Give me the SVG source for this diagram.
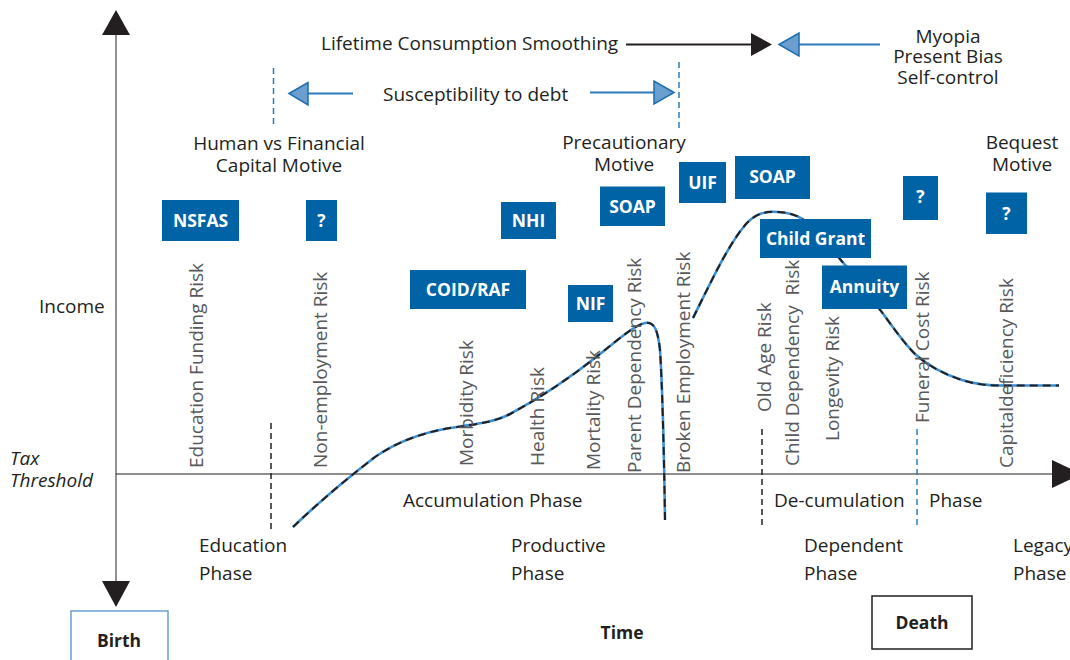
<svg xmlns="http://www.w3.org/2000/svg" width="1070" height="660" viewBox="0 0 1070 660">
<style>
.t{font-family:"Open Sans","Liberation Sans",sans-serif;font-size:19px;fill:#231f20}
.c{text-anchor:middle}
.r{font-family:"Open Sans","Liberation Sans",sans-serif;font-size:19px;fill:#58595b}
.bx{fill:#0063a6}
.bt{font-family:"Open Sans","Liberation Sans",sans-serif;font-size:17.5px;font-weight:bold;fill:#fff;text-anchor:middle}
.bk{font-family:"Open Sans","Liberation Sans",sans-serif;font-size:17.5px;font-weight:bold;fill:#231f20;text-anchor:middle}
.dk{stroke:#231f20;stroke-width:1.5;stroke-dasharray:6 4;fill:none}
.db{stroke:#2b7bba;stroke-width:1.5;stroke-dasharray:6 4;fill:none}
.bl{stroke:#2b7bba;stroke-width:2;fill:none}
.ah{fill:#6b9fd0;stroke:#1c6eae;stroke-width:1.5}
.cb{stroke:#3d8fd1;stroke-width:2.6;fill:none}
.cd{stroke:#231f20;stroke-width:2;stroke-dasharray:8 5;fill:none}
</style>
<rect width="1070" height="660" fill="#fff"/>
<g id="axes">
<line x1="116" y1="34" x2="116" y2="582" stroke="#6d6e71" stroke-width="1.5"/>
<polygon points="102,35 130,35 116,10" fill="#231f20"/>
<polygon points="102,581 130,581 116,607" fill="#231f20"/>
<line x1="116" y1="474" x2="1054" y2="474" stroke="#231f20" stroke-width="1.2"/>
<polygon points="1052,460 1052,488 1082,474" fill="#231f20"/>
<text class="t" x="39" y="313">Income</text>
<text class="t" x="10" y="465" font-style="italic">Tax</text>
<text class="t" x="10" y="487" font-style="italic">Threshold</text>
</g>
<g id="curve">
<path class="cb" d="M293,527 C318,503 345,480 375,457 C395,443 420,433 450,428 C478,424 495,422 510,414 C540,398 570,378 600,354 C620,338 635,325 645,323 C655,321 658,332 660,350 C662,380 664,450 665,520"/>
<path class="cd" d="M293,527 C318,503 345,480 375,457 C395,443 420,433 450,428 C478,424 495,422 510,414 C540,398 570,378 600,354 C620,338 635,325 645,323 C655,321 658,332 660,350 C662,380 664,450 665,520"/>
<path class="cb" d="M693,318 C712,280 728,245 746,224 C756,213 766,211 778,212 C792,213 800,216 812,226 C825,240 837,256 846,266 C860,282 870,297 881,311 C893,327 903,342 915,354 C925,363 940,373 962,380 C975,384 985,385.5 1000,385.5 L1059,385.5"/>
<path class="cd" d="M693,318 C712,280 728,245 746,224 C756,213 766,211 778,212 C792,213 800,216 812,226 C825,240 837,256 846,266 C860,282 870,297 881,311 C893,327 903,342 915,354 C925,363 940,373 962,380 C975,384 985,385.5 1000,385.5 L1059,385.5"/>
</g>
<g id="connectors">
<line class="dk" x1="271" y1="423" x2="271" y2="530"/>
<line class="dk" x1="762" y1="429" x2="762" y2="526"/>
<line class="db" x1="917" y1="429" x2="917" y2="529"/>
<line class="db" x1="273.5" y1="68" x2="273.5" y2="128"/>
<line class="db" x1="679" y1="62" x2="679" y2="132"/>
<line x1="626" y1="44.5" x2="752" y2="44.5" stroke="#231f20" stroke-width="1.8"/>
<polygon points="751,33 751,56 772,44.5" fill="#231f20"/>
<line class="bl" x1="799" y1="44.5" x2="880" y2="44.5"/>
<polygon class="ah" points="779,44.5 799,33 799,56"/>
<line class="bl" x1="308" y1="93.5" x2="353" y2="93.5"/>
<polygon class="ah" points="289,93.5 308,82.5 308,105"/>
<line class="bl" x1="590" y1="92.5" x2="654" y2="92.5"/>
<polygon class="ah" points="674,92.5 654,81 654,104"/>
</g>
<g id="top-labels">
<text class="t" x="321" y="50">Lifetime Consumption Smoothing</text>
<text class="t c" x="948" y="42.5">Myopia</text>
<text class="t c" x="948" y="63">Present Bias</text>
<text class="t c" x="948" y="84">Self-control</text>
<text class="t" x="383" y="101">Susceptibility to debt</text>
<text class="t c" x="279" y="150">Human vs Financial</text>
<text class="t c" x="279" y="172">Capital Motive</text>
<text class="t c" x="624" y="149">Precautionary</text>
<text class="t c" x="624" y="171">Motive</text>
<text class="t c" x="1022" y="149">Bequest</text>
<text class="t c" x="1022" y="171">Motive</text>
</g>
<g id="risks">
<text class="r" transform="translate(203,468) rotate(-90)">Education Funding Risk</text>
<text class="r" transform="translate(327,468) rotate(-90)">Non-employment Risk</text>
<text class="r" transform="translate(473,466) rotate(-90)">Morbidity Risk</text>
<text class="r" transform="translate(544,466) rotate(-90)">Health Risk</text>
<text class="r" transform="translate(600,470) rotate(-90)">Mortality Risk</text>
<text class="r" transform="translate(641,473) rotate(-90)">Parent Dependency Risk</text>
<text class="r" transform="translate(690,473) rotate(-90)">Broken Employment Risk</text>
<text class="r" transform="translate(771,412) rotate(-90)">Old Age Risk</text>
<text class="r" transform="translate(799,466) rotate(-90)">Child Dependency&#160; Risk</text>
<text class="r" transform="translate(839,441) rotate(-90)">Longevity Risk</text>
<text class="r" transform="translate(929,423) rotate(-90)">Funeral Cost Risk</text>
<text class="r" transform="translate(1013,468) rotate(-90)">Capitaldeficiency Risk</text>
</g>
<g id="node-nsfas"><rect class="bx" x="162" y="200" width="77" height="41"/><text class="bt" x="200.5" y="227">NSFAS</text></g>
<g id="node-q1"><rect class="bx" x="306" y="200" width="31" height="41"/><text class="bt" x="321.5" y="227">?</text></g>
<g id="node-nhi"><rect class="bx" x="501" y="202" width="55" height="37"/><text class="bt" x="528.5" y="227">NHI</text></g>
<g id="node-coid"><rect class="bx" x="410" y="270" width="116" height="39"/><text class="bt" x="468" y="296">COID/RAF</text></g>
<g id="node-soap1"><rect class="bx" x="600" y="186.5" width="65" height="39.5"/><text class="bt" x="632.5" y="212.5">SOAP</text></g>
<g id="node-nif"><rect class="bx" x="568" y="285" width="45" height="37"/><text class="bt" x="590.5" y="309.5">NIF</text></g>
<g id="node-uif"><rect class="bx" x="679" y="162" width="47" height="41"/><text class="bt" x="702.5" y="189">UIF</text></g>
<g id="node-soap2"><rect class="bx" x="735" y="156" width="75" height="43"/><text class="bt" x="772.5" y="183">SOAP</text></g>
<g id="node-q2"><rect class="bx" x="903" y="176" width="35" height="44"/><text class="bt" x="920.5" y="203">?</text></g>
<g id="node-q3"><rect class="bx" x="986" y="192.5" width="41" height="41.5"/><text class="bt" x="1006.5" y="219.5">?</text></g>
<g id="node-childgrant"><rect class="bx" x="760" y="219" width="111" height="39"/><text class="bt" x="815.5" y="245">Child Grant</text></g>
<g id="node-annuity"><rect class="bx" x="822" y="265.5" width="85" height="43.5"/><text class="bt" x="864.5" y="293">Annuity</text></g>
<g id="phases">
<text class="t" x="403" y="507">Accumulation Phase</text>
<text class="t" x="774" y="507">De-cumulation</text>
<text class="t" x="929" y="507">Phase</text>
<text class="t" x="199" y="552">Education</text>
<text class="t" x="199" y="580">Phase</text>
<text class="t" x="511" y="552">Productive</text>
<text class="t" x="511" y="580">Phase</text>
<text class="t" x="804" y="552">Dependent</text>
<text class="t" x="804" y="580">Phase</text>
<text class="t" x="1013" y="552">Legacy</text>
<text class="t" x="1013" y="580">Phase</text>
</g>
<g id="node-birth"><rect x="71" y="611" width="97" height="60" fill="#fff" stroke="#6a9fd4" stroke-width="1.5"/><text class="bk" x="119" y="647">Birth</text></g>
<g id="node-death"><rect x="872" y="596" width="100" height="53" fill="#fff" stroke="#231f20" stroke-width="1.5"/><text class="bk" x="922" y="629">Death</text></g>
<g id="node-time"><text class="bk" x="622" y="639">Time</text></g>
</svg>
